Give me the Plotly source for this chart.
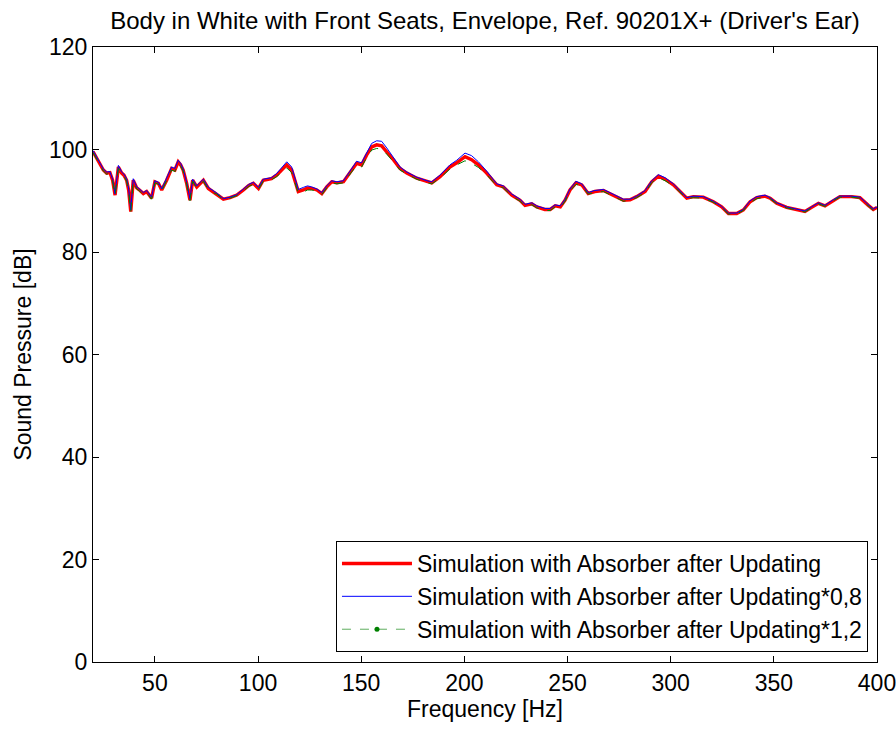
import plotly.graph_objects as go

freq = [20, 22.5, 25, 26.6, 28.2, 29.5, 30.7, 32.3, 33.9, 35, 36.3, 37.3, 38.3, 39.5, 41.2, 42.8,
        44.4, 46, 48.4, 50, 51.7, 53.3, 55.7, 58.1, 59.7, 61.3, 62.5, 63.7, 65.4, 67, 68.3, 70.3,
        71.9, 73.5, 75.9, 78, 80, 83.2, 86.4, 89.7, 92.9, 95.5, 97.7, 100.2, 102.5, 106.5, 109,
        111, 113.9, 116.3, 119.5, 121.9, 124, 126, 128.5, 130.9, 133.3, 135.7, 138.2, 141.4,
        143.8, 146.2, 147.8, 150.2, 152.6, 155.1, 157.5, 159.9, 162.4, 165.6, 168.8, 172.1,
        176.9, 181.8, 184.2, 188.2, 193, 196.3, 200.3, 203.5, 206.8, 210.8, 215.7, 218.9, 223,
        227, 229.4, 232.7, 235.1, 239, 241.6, 244, 246.5, 248.8, 251.2, 254.1, 256.9, 260,
        263.2, 267.4, 272.2, 277.1, 280.3, 283.5, 287.6, 290.8, 294, 297.3, 301.3, 304.5,
        307.8, 311, 315.8, 320.7, 324.7, 328, 332, 335.2, 338.5, 341.7, 345.7, 348.2, 351.4,
        356.2, 361.1, 365.1, 368.3, 371.6, 374.8, 378.8, 382, 387.7, 391.7, 395.8, 398.2, 400]

spl_ref = [99.6, 97.8, 96, 95.4, 95.5, 94, 91.1, 96.6, 95.4, 95, 94, 92, 87.9, 94, 92.5, 92,
           91.4, 91.8, 90.5, 93.7, 93.4, 92.1, 94, 96.3, 96, 97.6, 97, 96, 93.4, 90.1, 94, 92.7,
           93.4, 94, 92.4, 91.8, 91.4, 90.3, 90.6, 91.1, 92.1, 93, 93.4, 92.4, 94, 94.3, 95,
           95.8, 97, 96, 91.8, 92.1, 92.5, 92.4, 92.1, 91.4, 92.7, 93.7, 93.5, 93.7,
           95, 96.3, 97.3, 97, 98.9, 100.5, 100.9, 100.7, 99.6, 98, 96.3, 95.4,
           94.4, 93.7, 93.5, 94.7, 96.6, 97.4, 98.6, 98, 97, 95.4, 93.1, 92.7, 91.1,
           90.1, 89.1, 89.4, 88.8, 88.3, 88.3, 89, 88.8, 90.1, 92.1, 93.5, 93.1, 91.4,
           91.8, 92, 91.1, 90.1, 90.2, 90.8, 91.8, 93.7, 94.8, 94.2, 93.1, 91.8,
           90.5, 90.8, 90.7, 89.8, 88.8, 87.5, 87.5, 88.2, 89.8, 90.6, 90.9, 90.5, 89.5,
           88.7, 88.3, 87.9, 88.7, 89.5, 89, 90.1, 90.8, 90.8, 90.6, 89.1, 88.3, 88.7]

spl_08 = [99.8, 97.9, 96.2, 95.6, 95.7, 94.2, 91.3, 96.9, 95.6, 95.2, 94.3, 92.3, 88.2, 94.3, 92.7, 92.2,
          91.6, 92, 90.7, 93.9, 93.6, 92.3, 94.3, 96.6, 96.3, 97.9, 97.3, 96.2, 93.6, 90.4, 94.2, 92.9,
          93.6, 94.2, 92.6, 92, 91.5, 90.4, 90.7, 91.2, 92.3, 93.2, 93.6, 92.6, 94.2, 94.5, 95.3,
          96.2, 97.6, 96.6, 92.2, 92.6, 92.9, 92.7, 92.3, 91.6, 92.9, 93.9, 93.7, 93.9,
          95.3, 96.6, 97.7, 97.4, 99.4, 101.2, 101.7, 101.6, 100.3, 98.4, 96.6, 95.6,
          94.6, 93.9, 93.7, 95, 97, 97.9, 99.3, 98.8, 97.6, 95.8, 93.3, 92.9, 91.3,
          90.3, 89.3, 89.6, 89, 88.5, 88.5, 89.2, 89, 90.3, 92.3, 93.8, 93.3, 91.6,
          92, 92.2, 91.3, 90.3, 90.3, 90.9, 92, 93.9, 95.1, 94.5, 93.3, 92,
          90.6, 90.9, 90.8, 89.9, 88.9, 87.6, 87.6, 88.3, 90, 90.8, 91.1, 90.6, 89.6,
          88.8, 88.4, 88, 88.8, 89.6, 89.1, 90.2, 90.9, 90.9, 90.7, 89.2, 88.4, 88.8]

spl_12 = [99.4, 97.6, 95.8, 95.2, 95.3, 93.8, 91, 96.3, 95.2, 94.8, 93.8, 91.8, 87.8, 93.8, 92.3, 91.8,
          91.2, 91.6, 90.3, 93.5, 93.2, 91.9, 93.8, 96, 95.7, 97.3, 96.7, 95.8, 93.2, 90, 93.8, 92.5,
          93.2, 93.8, 92.2, 91.6, 91.3, 90.2, 90.5, 91, 91.9, 92.8, 93.2, 92.2, 93.8, 94.1, 94.7,
          95.4, 96.4, 95.5, 91.5, 91.7, 92.1, 92.1, 91.9, 91.2, 92.5, 93.5, 93.3, 93.5,
          94.7, 95.9, 96.9, 96.6, 98.4, 99.9, 100.2, 100.1, 99.1, 97.6, 96, 95.2,
          94.2, 93.5, 93.3, 94.4, 96.2, 97, 97.8, 97.3, 96.5, 95.1, 92.9, 92.5, 90.9,
          89.9, 89, 89.2, 88.6, 88.1, 88.1, 88.8, 88.6, 89.9, 91.9, 93.2, 92.9, 91.3,
          91.6, 91.8, 90.9, 89.9, 90.1, 90.6, 91.6, 93.5, 94.5, 93.9, 92.9, 91.6,
          90.4, 90.6, 90.5, 89.7, 88.7, 87.4, 87.4, 88.1, 89.6, 90.4, 90.7, 90.4, 89.4,
          88.6, 88.2, 87.8, 88.6, 89.4, 88.9, 90, 90.7, 90.7, 90.5, 89, 88.1, 88.5]

names = ["Simulation with Absorber after Updating",
         "Simulation with Absorber after Updating*0,8",
         "Simulation with Absorber after Updating*1,2"]

title_text = "Body in White with Front Seats, Envelope, Ref. 90201X+ (Driver's Ear)"
x_ticks = [50, 100, 150, 200, 250, 300, 350, 400]
y_ticks = [0, 20, 40, 60, 80, 100, 120]

FONT = "Liberation Sans, Arial, sans-serif"
green = "#008000"
FS = 23

fig = go.Figure()
fig.add_trace(go.Scatter(x=freq, y=spl_ref, mode="lines", name=names[0],
                         line=dict(color="#ff0000", width=3.4)))
fig.add_trace(go.Scatter(x=freq, y=spl_08, mode="lines", name=names[1],
                         line=dict(color="#0000ff", width=1)))
fig.add_trace(go.Scatter(x=freq, y=spl_12, mode="lines", name=names[2], showlegend=False,
                         legendgroup="g", line=dict(color=green, width=1, dash="dash")))
fig.add_trace(go.Scatter(x=[None], y=[None], mode="lines+markers", name=names[2],
                         legendgroup="g",
                         line=dict(color="#5fae5f", width=1, dash="dash"),
                         marker=dict(color=green, size=5)))

axis_common = dict(showline=True, linecolor="black", linewidth=1, mirror="ticks",
                   ticks="inside", ticklen=6, tickcolor="black", showgrid=False,
                   zeroline=False, automargin=False, ticklabeloverflow="allow",
                   tickfont=dict(size=FS, color="black", family=FONT))

fig.update_xaxes(range=[20, 400], tickvals=x_ticks, ticktext=[str(v) for v in x_ticks],
                 title=dict(text="Frequency [Hz]", font=dict(size=FS, color="black", family=FONT),
                            standoff=4),
                 **axis_common)
fig.update_yaxes(range=[0, 120], tickvals=y_ticks, ticktext=[str(v) for v in y_ticks],
                 title=dict(text="Sound Pressure [dB]", font=dict(size=FS, color="black", family=FONT),
                            standoff=10),
                 **axis_common)

fig.update_layout(
    width=896, height=729,
    margin=dict(l=93, r=19, t=47, b=67, autoexpand=False),
    paper_bgcolor="white", plot_bgcolor="white",
    font=dict(family=FONT, color="black", size=FS),
    title=dict(text=title_text, x=0.5, xref="paper", xanchor="center",
               y=1 - 21 / 729, yanchor="middle",
               font=dict(size=24, color="black", family=FONT)),
    legend=dict(x=0.9885, y=0.0163, xanchor="right", yanchor="bottom",
                bgcolor="white", bordercolor="black", borderwidth=1,
                font=dict(size=FS, color="black", family=FONT),
                itemwidth=70, tracegroupgap=0),
)

# remove the default 8px page margin so the 896x729 figure fills the window exactly
fig.write_html("out.html",
               config={"displayModeBar": False},
               post_script="document.body.style.margin='0';"
                           "document.body.style.overflow='hidden';")
